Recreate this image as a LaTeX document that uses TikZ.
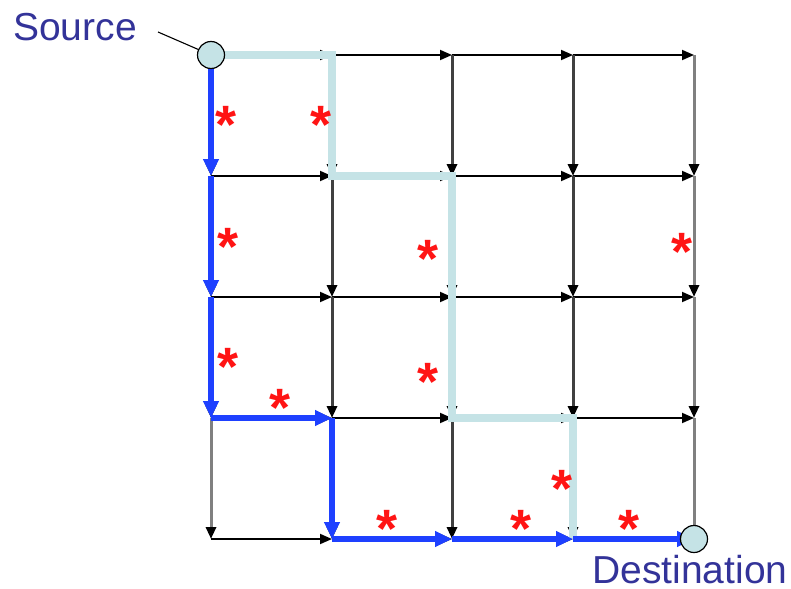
\documentclass[tikz,border=0pt]{standalone}
\usepackage{fontspec}
\setmainfont{Liberation Sans}
\usetikzlibrary{arrows.meta}
\definecolor{navy}{RGB}{51,51,153}
\definecolor{pathblue}{RGB}{30,64,255}
\definecolor{pathcyan}{RGB}{197,227,230}
\definecolor{gridgray}{RGB}{128,128,128}
\definecolor{griddark}{RGB}{64,64,64}
\definecolor{starred}{RGB}{255,20,20}
\begin{document}
\begin{tikzpicture}[x=1pt,y=-1pt,
  hedge/.style={black,line width=1.8pt,-{Triangle[length=12pt,width=10pt]}},
  vedge/.style={line width=3pt,-{Triangle[length=12pt,width=10pt,color=black]}},
  bluestep/.style={pathblue,line width=6pt,-{Triangle[length=17pt,width=15pt]}},
  cyanroute/.style={pathcyan,line width=7.5pt,line join=miter},
  endpoint/.style={circle,draw=black,line width=1.2pt,fill=pathcyan,minimum size=27pt,inner sep=0pt},
  redstar/.style={text=starred,font=\fontsize{54}{54}\selectfont\bfseries,anchor=base,inner sep=0pt,yshift=-25pt,text depth=0pt},
  lbl/.style={text=navy,font=\fontsize{39}{39}\selectfont,anchor=base,inner sep=0pt,text depth=0pt}]
\useasboundingbox (0,0) rectangle (791,588);
\foreach \i/\x in {0/211,1/332,2/452,3/573,4/694}
  \foreach \j/\y in {0/55,1/176,2/297,3/418,4/539}
    \coordinate (n\i\j) at (\x,\y);
% horizontal edges
\foreach \j in {0,...,4}
  \foreach \i/\k in {0/1,1/2,2/3,3/4}
    \draw[hedge] (n\i\j) -- (n\k\j);
% vertical edges
\foreach \i/\c in {0/gridgray,1/griddark,2/griddark,3/griddark,4/gridgray}
  \foreach \j/\k in {0/1,1/2,2/3,3/4}
    \draw[vedge,draw=\c] (n\i\j) -- (n\i\k);
% light route
\draw[cyanroute] (n00) -- (n10) -- (n11) -- (n21) -- (n22) -- (n23) -- (n33) -- (n34);
% blue route
\draw[bluestep] (n00) -- (n01);
\draw[bluestep] (n01) -- (n02);
\draw[bluestep] (n02) -- (n03);
\draw[bluestep] (n03) -- (n13);
\draw[bluestep] (n13) -- (n14);
\draw[bluestep] (n14) -- (n24);
\draw[bluestep] (n24) -- (n34);
\draw[bluestep] (n34) -- (n44);
% end points
\node[endpoint] (srcc) at (n00) {};
\node[endpoint] (dstc) at (n44) {};
% labels
\node[lbl] (src) at (75,41) {Source};
\node[lbl] (dst) at (690,583) {Destination};
\coordinate (lead) at (158,32);
\draw[black,line width=1.1pt] (lead) -- (srcc);
% stars
\node[redstar] (s1) at (226,119) {*};
\node[redstar] (s2) at (321,119) {*};
\node[redstar] (s3) at (228,240) {*};
\node[redstar] (s4) at (428,252) {*};
\node[redstar] (s5) at (682,245) {*};
\node[redstar] (s6) at (228,360) {*};
\node[redstar] (s7) at (280,401) {*};
\node[redstar] (s8) at (428,375) {*};
\node[redstar] (s9) at (562,482) {*};
\node[redstar] (s10) at (387,522) {*};
\node[redstar] (s11) at (521,522) {*};
\node[redstar] (s12) at (629,522) {*};
\end{tikzpicture}
\end{document}
